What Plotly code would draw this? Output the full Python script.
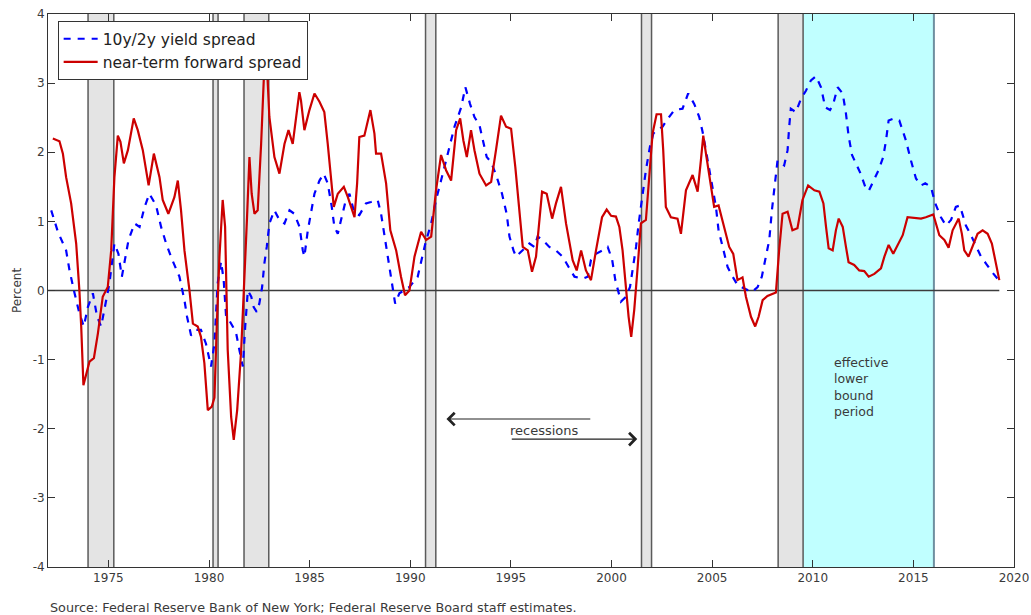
import plotly.graph_objects as go

# ---------------- data ----------------
red_years = [1972.24, 1972.57, 1972.74, 1972.90, 1973.15, 1973.40, 1973.56, 1973.65, 1973.76, 1973.90,
             1974.06, 1974.28, 1974.48, 1974.72, 1974.97, 1975.14, 1975.30, 1975.47, 1975.60, 1975.77,
             1975.97, 1976.26, 1976.46, 1976.71, 1977.00, 1977.26, 1977.54, 1977.70, 1977.98, 1978.28,
             1978.45, 1978.61, 1978.78, 1979.03, 1979.20, 1979.44, 1979.60, 1979.77, 1979.94, 1980.14,
             1980.27, 1980.40, 1980.52, 1980.68, 1980.80, 1980.93, 1981.10, 1981.23, 1981.40, 1981.60,
             1981.76, 1981.89, 1982.01, 1982.12, 1982.26, 1982.42, 1982.59, 1982.75, 1982.87, 1983.00,
             1983.25, 1983.50, 1983.75, 1983.95, 1984.16, 1984.33, 1984.49, 1984.57, 1984.74, 1984.99,
             1985.24, 1985.49, 1985.73, 1985.90, 1986.07, 1986.20, 1986.40, 1986.70, 1986.90, 1987.06,
             1987.23, 1987.36, 1987.47, 1987.72, 1988.02, 1988.22, 1988.30, 1988.55, 1988.80, 1989.01,
             1989.30, 1989.54, 1989.74, 1989.96, 1990.21, 1990.54, 1990.79, 1991.04, 1991.28, 1991.53,
             1991.78, 1992.03, 1992.28, 1992.48, 1992.64, 1992.81, 1993.02, 1993.19, 1993.44, 1993.77,
             1994.02, 1994.26, 1994.51, 1994.76, 1995.01, 1995.22, 1995.42, 1995.59, 1995.84, 1996.05,
             1996.25, 1996.42, 1996.55, 1996.78, 1997.05, 1997.24, 1997.49, 1997.74, 1998.07, 1998.27,
             1998.49, 1998.73, 1998.98, 1999.23, 1999.53, 1999.76, 1999.98, 2000.22, 2000.39, 2000.55,
             2000.72, 2000.85, 2000.98, 2001.13, 2001.30, 2001.46, 2001.71, 2001.88, 2002.04, 2002.24,
             2002.46, 2002.57, 2002.70, 2002.95, 2003.28, 2003.45, 2003.70, 2004.03, 2004.28, 2004.44,
             2004.56, 2004.72, 2004.94, 2005.10, 2005.32, 2005.60, 2005.85, 2006.05, 2006.26, 2006.51,
             2006.68, 2006.93, 2007.14, 2007.31, 2007.51, 2007.75, 2008.17, 2008.33, 2008.50, 2008.75,
             2008.99, 2009.24, 2009.49, 2009.77, 2010.08, 2010.33, 2010.53, 2010.66, 2010.79, 2010.99,
             2011.15, 2011.29, 2011.49, 2011.65, 2011.78, 2012.06, 2012.31, 2012.56, 2012.78, 2013.06,
             2013.39, 2013.56, 2013.77, 2014.00, 2014.22, 2014.47, 2014.71, 2015.05, 2015.38, 2015.62,
             2015.99, 2016.12, 2016.29, 2016.54, 2016.75, 2016.95, 2017.25, 2017.41, 2017.53, 2017.74,
             2017.94, 2018.19, 2018.44, 2018.69, 2018.90, 2019.07, 2019.27]
red_values = [2.20, 2.16, 1.98, 1.64, 1.26, 0.68, 0.00, -0.52, -1.37, -1.20,
              -1.03, -0.98, -0.62, -0.09, 0.05, 0.58, 1.64, 2.24, 2.15, 1.84,
              2.03, 2.49, 2.32, 2.03, 1.52, 1.98, 1.64, 1.31, 1.11, 1.35,
              1.59, 1.16, 0.58, 0.00, -0.48, -0.52, -0.67, -1.05, -1.73, -1.68,
              -1.55, -0.40, 0.49, 1.31, 0.92, -0.86, -1.83, -2.16, -1.73, -0.86,
              0.10, 1.06, 1.93, 1.40, 1.11, 1.16, 2.12, 3.25, 3.30, 2.51,
              1.93, 1.69, 2.12, 2.32, 2.12, 2.51, 2.87, 2.75, 2.32, 2.61,
              2.85, 2.73, 2.58, 2.12, 1.64, 1.21, 1.40, 1.50, 1.35, 1.21,
              1.06, 1.55, 2.22, 2.24, 2.61, 2.27, 1.98, 1.98, 1.55, 0.87,
              0.58, 0.20, -0.07, 0.00, 0.49, 0.85, 0.73, 0.78, 1.45, 1.96,
              1.74, 1.59, 2.32, 2.49, 2.17, 1.93, 2.32, 2.03, 1.69, 1.52,
              1.57, 2.03, 2.53, 2.37, 2.34, 1.79, 1.16, 0.63, 0.58, 0.27,
              0.49, 1.02, 1.43, 1.40, 1.04, 1.26, 1.50, 0.97, 0.44, 0.29,
              0.58, 0.29, 0.15, 0.58, 1.06, 1.17, 1.08, 1.07, 0.92, 0.58,
              0.00, -0.38, -0.67, -0.28, 0.34, 0.97, 1.02, 1.64, 2.27, 2.55,
              2.55, 2.03, 1.21, 1.06, 1.04, 0.82, 1.45, 1.67, 1.43, 1.88,
              2.24, 1.93, 1.50, 1.21, 1.23, 0.92, 0.63, 0.53, 0.15, 0.19,
              -0.09, -0.38, -0.52, -0.38, -0.14, -0.08, -0.03, 0.58, 1.11, 1.14,
              0.87, 0.90, 1.31, 1.52, 1.45, 1.43, 1.26, 0.92, 0.61, 0.58,
              0.87, 1.04, 0.92, 0.63, 0.41, 0.37, 0.29, 0.28, 0.20, 0.24,
              0.32, 0.49, 0.66, 0.53, 0.66, 0.80, 1.06, 1.05, 1.04, 1.06,
              1.10, 0.97, 0.80, 0.73, 0.62, 0.87, 1.04, 0.82, 0.58, 0.49,
              0.63, 0.82, 0.87, 0.82, 0.68, 0.44, 0.15]

blue_years = [1972.16, 1972.49, 1972.90, 1973.07, 1973.32, 1973.56, 1973.78, 1973.98, 1974.23, 1974.44,
              1974.64, 1974.84, 1975.05, 1975.30, 1975.50, 1975.67, 1975.83, 1976.00, 1976.30, 1976.55,
              1976.80, 1977.04, 1977.37, 1977.62, 1977.87, 1978.15, 1978.53, 1978.78, 1978.91, 1979.11,
              1979.36, 1979.60, 1979.85, 1980.10, 1980.27, 1980.43, 1980.60, 1980.73, 1980.85, 1981.00,
              1981.18, 1981.35, 1981.51, 1981.68, 1981.80, 1981.93, 1982.10, 1982.22, 1982.37, 1982.50,
              1982.64, 1982.75, 1982.87, 1983.00, 1983.25, 1983.50, 1983.75, 1984.00, 1984.24, 1984.50,
              1984.66, 1984.74, 1984.91, 1985.10, 1985.24, 1985.49, 1985.70, 1985.90, 1986.10, 1986.23,
              1986.40, 1986.56, 1986.76, 1986.98, 1987.23, 1987.47, 1987.80, 1988.05, 1988.38, 1988.55,
              1988.71, 1988.91, 1989.08, 1989.25, 1989.46, 1989.71, 1989.96, 1990.37, 1990.59, 1990.75,
              1991.04, 1991.28, 1991.53, 1991.70, 1991.95, 1992.20, 1992.53, 1992.74, 1992.97, 1993.19,
              1993.44, 1993.63, 1993.80, 1994.02, 1994.30, 1994.56, 1994.79, 1994.93, 1995.13, 1995.26,
              1995.59, 1995.92, 1996.17, 1996.33, 1996.58, 1996.91, 1997.24, 1997.57, 1997.87, 1998.16,
              1998.57, 1998.82, 1998.98, 1999.23, 1999.56, 1999.81, 2000.03, 2000.19, 2000.47, 2000.72,
              2000.92, 2001.08, 2001.22, 2001.35, 2001.51, 2001.71, 2001.91, 2002.08, 2002.24, 2002.54,
              2002.74, 2003.12, 2003.53, 2003.81, 2004.11, 2004.36, 2004.53, 2004.69, 2004.86, 2005.02,
              2005.19, 2005.32, 2005.52, 2005.77, 2006.02, 2006.26, 2006.60, 2006.98, 2007.26, 2007.47,
              2007.67, 2007.84, 2007.97, 2008.12, 2008.25, 2008.58, 2008.75, 2008.83, 2008.91, 2009.16,
              2009.41, 2009.66, 2009.91, 2010.16, 2010.41, 2010.62, 2010.86, 2011.02, 2011.24, 2011.49,
              2011.65, 2011.78, 2011.95, 2012.35, 2012.61, 2012.78, 2013.06, 2013.27, 2013.50, 2013.64,
              2013.77, 2014.05, 2014.30, 2014.63, 2014.88, 2015.13, 2015.38, 2015.59, 2015.87, 2016.09,
              2016.37, 2016.62, 2016.87, 2017.11, 2017.31, 2017.61, 2017.86, 2018.08, 2018.36, 2018.61,
              2018.90, 2019.24]
blue_values = [1.16, 0.85, 0.58, 0.29, -0.04, -0.33, -0.52, -0.24, -0.04, -0.38,
               -0.52, -0.24, 0.10, 0.68, 0.53, 0.20, 0.44, 0.73, 0.97, 0.92,
               1.21, 1.40, 1.23, 0.92, 0.68, 0.46, 0.20, -0.14, -0.38, -0.65,
               -0.57, -0.57, -0.77, -1.10, -0.77, 0.10, 0.42, 0.15, -0.38, -0.43,
               -0.52, -0.62, -0.86, -1.10, -0.52, 0.00, -0.09, -0.24, -0.31, -0.19,
               0.05, 0.39, 0.63, 0.97, 1.16, 1.02, 0.97, 1.16, 1.11, 0.92,
               0.58, 0.49, 0.87, 1.16, 1.40, 1.59, 1.69, 1.55, 1.21, 0.92,
               0.82, 1.02, 1.26, 1.40, 1.11, 1.09, 1.26, 1.28, 1.31, 1.11,
               0.82, 0.44, 0.10, -0.19, -0.04, 0.00, 0.05, 0.20, 0.49, 0.68,
               0.97, 1.31, 1.59, 1.79, 2.12, 2.37, 2.65, 2.94, 2.70, 2.51,
               2.39, 2.17, 1.93, 1.86, 1.64, 1.40, 1.11, 0.78, 0.58, 0.49,
               0.58, 0.68, 0.63, 0.78, 0.73, 0.63, 0.58, 0.49, 0.34, 0.20,
               0.17, 0.20, 0.44, 0.53, 0.58, 0.63, 0.45, 0.15, -0.16, -0.09,
               0.05, 0.34, 0.63, 0.97, 1.35, 1.74, 2.08, 2.27, 2.32, 2.37,
               2.46, 2.61, 2.63, 2.85, 2.70, 2.51, 2.29, 2.03, 1.74, 1.45,
               1.21, 0.87, 0.63, 0.34, 0.20, 0.08, 0.03, -0.02, 0.05, 0.20,
               0.49, 0.73, 1.16, 1.55, 1.88, 1.81, 2.03, 2.37, 2.63, 2.58,
               2.77, 2.89, 3.04, 3.10, 2.94, 2.65, 2.61, 2.70, 2.94, 2.85,
               2.56, 2.24, 1.96, 1.71, 1.50, 1.44, 1.62, 1.74, 1.93, 2.17,
               2.46, 2.49, 2.46, 2.17, 1.88, 1.62, 1.52, 1.55, 1.50, 1.26,
               1.06, 0.94, 1.02, 1.21, 1.23, 0.94, 0.80, 0.66, 0.49, 0.39,
               0.27, 0.15]

recession_starts = [1973.99, 1980.20, 1981.74, 1990.76, 2001.49, 2008.28]
recession_ends = [1975.27, 1980.45, 1982.97, 1991.27, 2001.99, 2009.52]
elb_start = 2009.52
elb_end = 2016.02

x_ticks = [1975, 1980, 1985, 1990, 1995, 2000, 2005, 2010, 2015, 2020]
y_ticks = [-4, -3, -2, -1, 0, 1, 2, 3, 4]
y_tick_labels = ["-4", "-3", "-2", "-1", "0", "1", "2", "3", "4"]

series_names = ["10y/2y yield spread", "near-term forward spread"]
source_text = "Source: Federal Reserve Bank of New York; Federal Reserve Board staff estimates."

FONT = "DejaVu Sans"
TXT = "#3a3a3a"

fig = go.Figure()

# zero line across data span
fig.add_trace(go.Scatter(x=[min(red_years[0], blue_years[0]) - 0.2, red_years[-1]], y=[0, 0], mode="lines",
                         line=dict(color="#3c3c3c", width=1.3), showlegend=False, hoverinfo="skip"))

fig.add_trace(go.Scatter(x=blue_years, y=blue_values, mode="lines", name=series_names[0],
                         line=dict(color="#0000ff", width=2.2, dash="7px,7px")))
fig.add_trace(go.Scatter(x=red_years, y=red_values, mode="lines", name=series_names[1],
                         line=dict(color="#cc0000", width=2.2)))

shapes = []
for s, e in zip(recession_starts, recession_ends):
    shapes.append(dict(type="rect", xref="x", yref="paper", x0=s, x1=e, y0=0, y1=1,
                       fillcolor="#e4e4e4", line=dict(width=0), layer="below"))
shapes.append(dict(type="rect", xref="x", yref="paper", x0=elb_start, x1=elb_end, y0=0, y1=1,
                   fillcolor="#c0ffff", line=dict(width=0), layer="below"))
for s, e in zip(recession_starts, recession_ends):
    for v in (s, e):
        shapes.append(dict(type="line", xref="x", yref="paper", x0=v, x1=v, y0=0, y1=1,
                           line=dict(color="#5a5a5a", width=1.5), layer="below"))
shapes.append(dict(type="line", xref="x", yref="paper", x0=elb_end, x1=elb_end, y0=0, y1=1,
                   line=dict(color="#6f8fa0", width=2), layer="below"))

annotations = [
    dict(x=1991.8, y=-1.86, ax=1999.02, ay=-1.86, xref="x", yref="y", axref="x", ayref="y",
         showarrow=True, arrowhead=4, arrowsize=2.2, arrowwidth=1.1, arrowcolor="#222", text=""),
    dict(x=2001.28, y=-2.15, ax=1994.97, ay=-2.15, xref="x", yref="y", axref="x", ayref="y",
         showarrow=True, arrowhead=4, arrowsize=2.2, arrowwidth=1.1, arrowcolor="#222", text=""),
    dict(x=1996.68, y=-2.03, xref="x", yref="y", text="recessions", showarrow=False,
         font=dict(family=FONT, size=13, color=TXT)),
    dict(x=2010.97, y=-1.40, xref="x", yref="y", xanchor="left", align="left", showarrow=False,
         text="effective<br>lower<br>bound<br>period", font=dict(family=FONT, size=12.5, color=TXT)),
    dict(x=0, y=0, xref="paper", yref="paper", xanchor="left", yanchor="middle", yshift=-40,
         text=source_text, showarrow=False, font=dict(family=FONT, size=12.8, color=TXT)),
]

fig.update_layout(
    template="none",
    width=1031, height=615,
    margin=dict(l=48, r=17, t=14, b=48, autoexpand=False),
    paper_bgcolor="white", plot_bgcolor="white",
    font=dict(family=FONT, size=12, color=TXT),
    shapes=shapes, annotations=annotations,
    showlegend=True,
    legend=dict(x=0.010, y=0.987, xanchor="left", yanchor="top", bgcolor="white",
                bordercolor="#333", borderwidth=1, font=dict(family=FONT, size=15.5, color="#222"),
                tracegroupgap=0, itemwidth=34),
    xaxis=dict(range=[1972, 2020], tickvals=x_ticks, ticks="inside", ticklen=7, tickcolor="#333",
               showline=True, linecolor="#333", linewidth=1, mirror="ticks", showgrid=False,
               zeroline=False, automargin=False, tickfont=dict(family=FONT, size=12, color=TXT)),
    yaxis=dict(range=[-4, 4], tickvals=y_ticks, ticktext=y_tick_labels, ticks="inside", ticklen=7,
               tickcolor="#333", showline=True, linecolor="#333", linewidth=1, mirror="ticks",
               showgrid=False, zeroline=False, automargin=False,
               title=dict(text="Percent", font=dict(family=FONT, size=12, color=TXT), standoff=8),
               tickfont=dict(family=FONT, size=12, color=TXT)),
)

fig.write_html("out.html", config={"displayModeBar": False},
               post_script="document.body.style.margin='0';")
